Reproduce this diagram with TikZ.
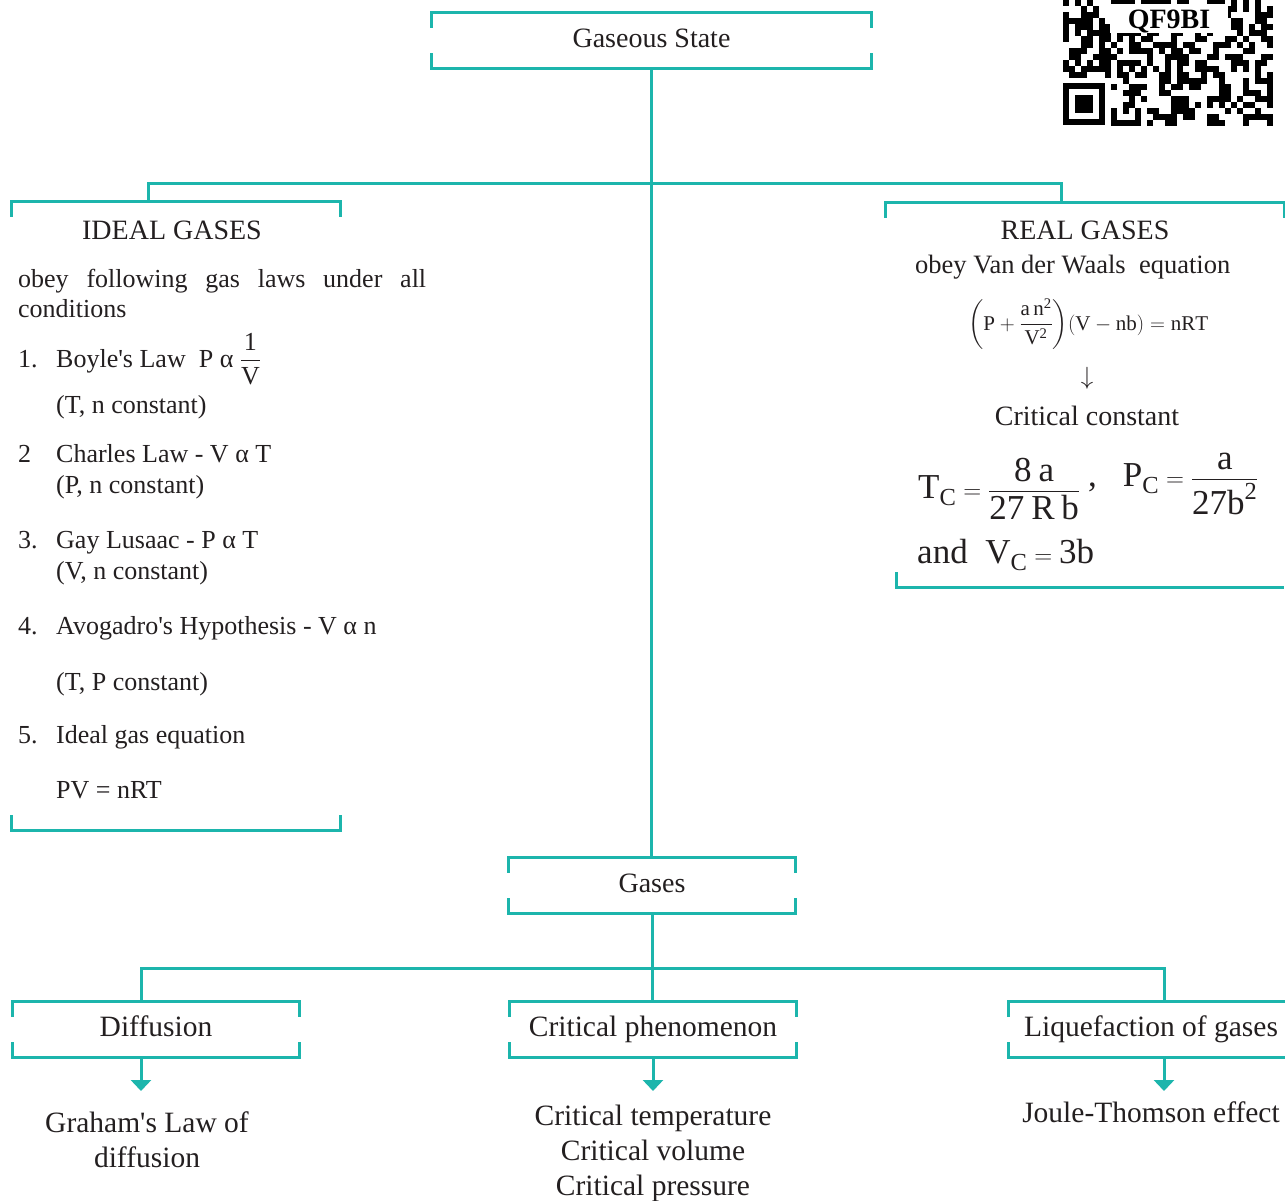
\documentclass[tikz,border=0pt]{standalone}
\usepackage{amsmath}
\usepackage{fontspec}
\setmainfont{Liberation Serif}
\usetikzlibrary{arrows.meta,positioning,calc}
\definecolor{branch}{HTML}{1CB5AC}
\definecolor{ink}{HTML}{231F20}

\newcommand{\headsize}{\fontsize{28}{34}\selectfont}
\newcommand{\bodysize}{\fontsize{26}{32}\selectfont}
\newcommand{\leafsize}{\fontsize{29.5}{35}\selectfont}
\newcommand{\bigsize}{\fontsize{35}{40}\selectfont}
\newcommand{\up}[1]{\mathrm{#1}}
%% open bracket on top and bottom of a box node
\newcommand{\topbr}[1]{\draw[link] ([yshift=-15pt]#1.north west) -- (#1.north west) -- (#1.north east) -- ++(0,-15pt);}
\newcommand{\botbr}[1]{\draw[link] ([yshift=15pt]#1.south west) -- (#1.south west) -- (#1.south east) -- ++(0,15pt);}

\begin{document}
\begin{tikzpicture}[
  x=1pt, y=-1pt,
  every node/.style={text=ink, inner sep=0pt},
  box/.style={minimum height=55pt, text height=20pt, text depth=6pt, font=\headsize},
  frame/.style={minimum width=#1},
  link/.style={draw=branch, line width=3pt},
  arr/.style={link, -{Triangle[length=11pt,width=20pt]}},
  item/.style={anchor=base west, font=\bodysize},
  leaf/.style={align=center, font=\leafsize},
]
\useasboundingbox (0,0) rectangle (1285,1200);

%% QR code corner
\pgfmathsetseed{31}
\foreach \i in {0,...,34}{
  \foreach \j in {0,...,20}{
    \pgfmathrandominteger{\qbit}{0}{1}
    \ifnum\qbit=1 \fill[black] (1063+\i*6,\j*6) rectangle ++(6,6); \fi
  }
}
\fill[white] (1110,4) rectangle (1228,33);
\node[font=\fontsize{28}{28}\selectfont\bfseries, text=black, anchor=base] (qrtext) at (1169,28) {QF9BI};
\fill[white] (1063,78) rectangle (1111,126);
\fill[black] (1063,83) rectangle (1105,125);
\fill[white] (1069,89) rectangle (1099,119);
\fill[black] (1075,95) rectangle (1093,113);

%% Main boxes
\node[box, frame=439pt] (state) at (651.5,40.5) {Gaseous State};
\node[frame=328pt, minimum height=628pt] (ideal) at (176,516) {};
\node[frame=398pt, minimum height=384pt] (real) at (1085,395) {};
\node[box, frame=286pt] (gases) at (652,885.5) {Gases};
\node[box, frame=286pt, font=\leafsize] (diff) at (156,1029.5) {Diffusion};
\node[box, frame=286pt, font=\leafsize] (crit) at (653,1029.5) {Critical phenomenon};
\node[box, frame=284pt, font=\leafsize] (liq) at (1151,1029.5) {Liquefaction of gases};

\topbr{state} \botbr{state}
\topbr{ideal} \botbr{ideal}
\topbr{real}
\draw[link] ([xshift=11pt,yshift=15pt]real.south west) -- ([xshift=11pt]real.south west) -- (real.south east);
\topbr{gases} \botbr{gases}
\topbr{diff} \botbr{diff}
\topbr{crit} \botbr{crit}
\topbr{liq} \botbr{liq}

%% Ideal gases
\node[font=\headsize, anchor=base] (ideal-title) at (172,239) {IDEAL GASES};
\node[item] (laws) at (18,287) {\makebox[408pt][s]{obey following gas laws under all}};
\node[item] (cond) at (18,317) {conditions};
\node[item] (n1) at (18,367) {1.};
\node[item] (boyle) at (56,367) {Boyle\textquotesingle s Law\ \ P α $\displaystyle\frac{\up{1}}{\up{V}}$};
\node[item] (boyle-c) at (56,413) {(T, n constant)};
\node[item] (n2) at (18,462) {2};
\node[item] (charles) at (56,462) {Charles Law - V α T};
\node[item] (charles-c) at (56,493) {(P, n constant)};
\node[item] (n3) at (18,548) {3.};
\node[item] (gay) at (56,548) {Gay Lusaac - P α T};
\node[item] (gay-c) at (56,579) {(V, n constant)};
\node[item] (n4) at (18,634) {4.};
\node[item] (avo) at (56,634) {Avogadro\textquotesingle s Hypothesis - V α n};
\node[item] (avo-c) at (56,690) {(T, P constant)};
\node[item] (n5) at (18,743) {5.};
\node[item] (ideq) at (56,743) {Ideal gas equation};
\node[item] (pv) at (56,798) {PV = nRT};

%% Real gases
\node[font=\headsize, anchor=base] (real-title) at (1085,239) {REAL GASES};
\node[font=\fontsize{26.5}{32}\selectfont, anchor=base west] (vdw) at (915,273) {obey Van der Waals\ \ equation};
\node[font=\fontsize{21}{25}\selectfont, anchor=base west] (vdweq) at (968,330)
  {$\biggl(\up{P}+\dfrac{\up{a\,n}^{\up{2}}}{\up{V}^{\up{2}}}\biggr)(\up{V}-\up{nb})=\up{nRT}$};
\node[font=\fontsize{30}{30}\selectfont] (down) at (1087,378) {$\downarrow$};
\node[font=\headsize, anchor=base] (crit-const) at (1087,425) {Critical constant};
\node[font=\bigsize, anchor=base west] (tc) at (918,498)
  {$\up{T}_{\up{C}}=\dfrac{\up{8\;a}}{\up{27\;R\;b}}$\hspace{8pt}\raisebox{12pt}{,\hspace{26pt}$\up{P}_{\up{C}}=\dfrac{\up{a}}{\up{27b}^{\up{2}}}$}};
\node[font=\bigsize, anchor=base west] (vc) at (917,563) {and\ \ $\up{V}_{\up{C}}=\up{3b}$};

%% Leaves
\node[leaf] (graham) at (147,1140) {Graham\textquotesingle s Law of\\diffusion};
\node[leaf] (critlist) at (653,1153) {Critical temperature\\Critical volume\\Critical pressure};
\node[leaf, anchor=base] (joule) at (1151,1122) {Joule-Thomson effect};

%% Connectors
\coordinate (jl) at (148,183);
\coordinate (jr) at (1061,183);
\coordinate (jd) at (141,968);
\coordinate (jq) at (1164,968);
\draw[link] (state.south) -- (state.south |- gases.north);
\draw[link] (ideal.north -| jl) -- (jl) -- (jr) -- (real.north -| jr);
\draw[link] (gases.south) -- (gases.south |- crit.north);
\draw[link] (diff.north -| jd) -- (jd) -- (jq) -- (liq.north -| jq);

%% Arrows
\coordinate (ad) at (141,1091);
\coordinate (ac) at (653,1091);
\coordinate (aq) at (1164,1091);
\draw[arr] (diff.south -| ad) -- (ad);
\draw[arr] (crit.south -| ac) -- (ac);
\draw[arr] (liq.south -| aq) -- (aq);

\end{tikzpicture}
\end{document}
